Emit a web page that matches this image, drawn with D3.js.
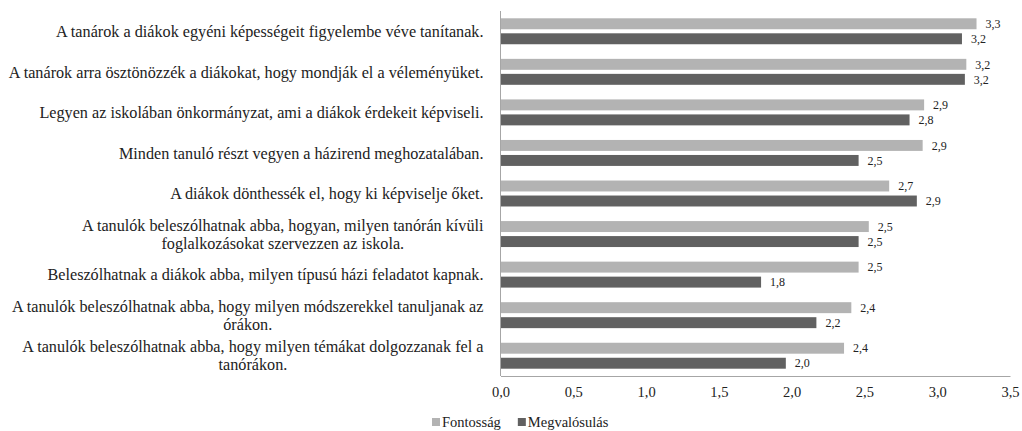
<!DOCTYPE html>
<html>
<head>
<meta charset="utf-8">
<script src="https://cdn.jsdelivr.net/npm/d3@7"></script>
<style>
  body { margin: 0; background: #fff; }
</style>
</head>
<body>
<div id="chart"></div>
<script>
// category labels (already split into lines the way the original wraps them)
const categories = [
    ["A tanárok a diákok egyéni képességeit figyelembe véve tanítanak."],
    ["A tanárok arra ösztönözzék a diákokat, hogy mondják el a véleményüket."],
    ["Legyen az iskolában önkormányzat, ami a diákok érdekeit képviseli."],
    ["Minden tanuló részt vegyen a házirend meghozatalában."],
    ["A diákok dönthessék el, hogy ki képviselje őket."],
    ["A tanulók beleszólhatnak abba, hogyan, milyen tanórán kívüli", "foglalkozásokat szervezzen az iskola."],
    ["Beleszólhatnak a diákok abba, milyen típusú házi feladatot kapnak."],
    ["A tanulók beleszólhatnak abba, hogy milyen módszerekkel tanuljanak az", "órákon."],
    ["A tanulók beleszólhatnak abba, hogy milyen témákat dolgozzanak fel a", "tanórákon."]
];

const seriesNames = ["Fontosság", "Megvalósulás"];
const fontossag = [3.27, 3.20, 2.91, 2.90, 2.67, 2.53, 2.46, 2.41, 2.36];
const megvalosulas = [3.17, 3.19, 2.81, 2.46, 2.86, 2.46, 1.79, 2.17, 1.96];
const xTicks = [0, 0.5, 1, 1.5, 2, 2.5, 3, 3.5];

const colors = { "Fontosság": "#b3b3b3", "Megvalósulás": "#616161" };
const FONT = "'Liberation Serif', 'Times New Roman', serif";

const config = {
    width: 1022,
    height: 431,
    margin: { top: 11, right: 12, bottom: 55, left: 500.5 }
};

const innerW = 1010 - config.margin.left;
const innerH = 376 - config.margin.top;

const svg = d3.select("#chart")
    .append("svg")
    .attr("width", config.width)
    .attr("height", config.height)
    .style("font-family", FONT);

const g = svg.append("g")
    .attr("transform", `translate(${config.margin.left},${config.margin.top})`);

const x = d3.scaleLinear().domain([0, 3.5]).range([0, innerW]);

const y = d3.scaleBand()
    .domain(d3.range(categories.length))
    .range([0, innerH])
    .paddingInner(0.36)
    .paddingOuter(0.18);

const ySub = d3.scaleBand()
    .domain(seriesNames)
    .range([0, y.bandwidth()])
    .paddingInner(0.27);

const fmt = v => d3.format(".1f")(v).replace(".", ",");

// rows of data
const rows = categories.map((c, i) => ({
    i,
    values: [
        { key: "Fontosság", value: fontossag[i] },
        { key: "Megvalósulás", value: megvalosulas[i] }
    ]
}));

const groups = g.selectAll(".row")
    .data(rows)
    .enter()
    .append("g")
    .attr("class", "row")
    .attr("transform", d => `translate(0,${y(d.i)})`);

groups.selectAll("rect")
    .data(d => d.values)
    .enter()
    .append("rect")
    .attr("x", 0)
    .attr("y", d => ySub(d.key))
    .attr("width", d => x(d.value))
    .attr("height", ySub.bandwidth())
    .attr("fill", d => colors[d.key]);

groups.selectAll("text.val")
    .data(d => d.values)
    .enter()
    .append("text")
    .attr("class", "val")
    .attr("x", d => x(d.value) + 9)
    .attr("y", d => ySub(d.key) + ySub.bandwidth() / 2)
    .attr("dy", "0.35em")
    .style("font-family", FONT)
    .style("font-size", "12px")
    .attr("fill", "#222")
    .text(d => fmt(d.value));

// axis lines
g.append("line")
    .attr("x1", 0).attr("x2", 0)
    .attr("y1", 0).attr("y2", innerH)
    .attr("stroke", "#a6a6a6")
    .attr("stroke-width", 1);

const xAxis = g.append("g")
    .attr("transform", `translate(0,${innerH})`)
    .call(d3.axisBottom(x).tickValues(xTicks).tickSize(0).tickPadding(11).tickFormat(fmt));
xAxis.attr("font-family", null).attr("font-size", null);
xAxis.select(".domain").attr("stroke", "#a6a6a6");
xAxis.selectAll("text")
    .style("font-family", FONT)
    .style("font-size", "14.5px")
    .attr("fill", "#222");

// category labels: block right-aligned, lines centred inside the block
const labelRight = -17;
const lineH = 18;
categories.forEach((lines, i) => {
    const lg = g.append("g");
    const texts = lines.map((ln, k) => lg.append("text")
        .attr("y", y(i) + y.bandwidth() / 2 + (k - (lines.length - 1) / 2) * lineH)
        .attr("dy", "0.35em")
        .attr("text-anchor", "middle")
        .style("font-family", FONT)
        .style("font-size", "16.2px")
        .attr("fill", "#222")
        .text(ln));
    const maxW = d3.max(texts, t => t.node().getComputedTextLength());
    texts.forEach(t => t.attr("x", labelRight - maxW / 2));
});

// legend
const legend = svg.append("g").attr("transform", "translate(432,422)");
let lx = 0;
seriesNames.forEach(name => {
    legend.append("rect")
        .attr("x", lx).attr("y", -4)
        .attr("width", 8).attr("height", 8)
        .attr("fill", colors[name]);
    const t = legend.append("text")
        .attr("x", lx + 10)
        .attr("dy", "0.35em")
        .style("font-family", FONT)
        .style("font-size", "14.5px")
        .attr("fill", "#222")
        .text(name);
    lx += 10 + t.node().getComputedTextLength() + 17;
});
</script>
</body>
</html>
